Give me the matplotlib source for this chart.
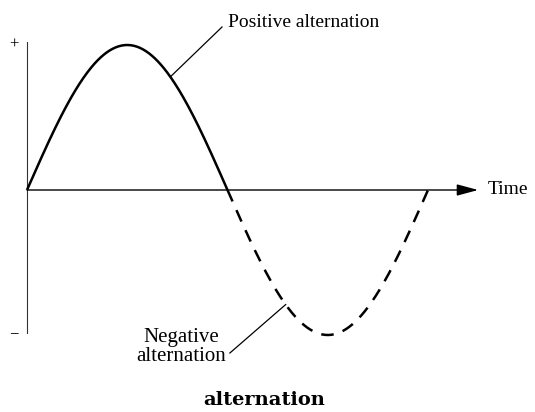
import matplotlib
matplotlib.use("Agg")
import matplotlib.pyplot as plt
import numpy as np

# one full cycle of the AC wave, split into its two halves
half_cycles = [(0.0, 1.0), (1.0, 2.0)]
half_labels = ["Positive alternation", "Negative\nalternation"]
half_styles = ["-", (0, (5, 3.8))]
amplitude = 1.0
axis_labels = ["+", "\u2212"]
x_label = "Time"
title = "alternation"


def wave(t):
    return amplitude * np.sin(np.pi * t)


fig = plt.figure(figsize=(5.35, 4.12), dpi=100)
ax = fig.add_axes([0, 0, 1, 1])
ax.set_xlim(-27 / 200.5, 508 / 200.5)
ax.set_ylim(-222 / 145, 190 / 145)
ax.axis("off")

serif = "Liberation Serif"

# axes
ax.plot([0, 0], [1.02, -0.986], color="#333333", lw=0.8)
ax.annotate("", xy=(2.25, 0), xytext=(0, 0),
            arrowprops=dict(arrowstyle="-|>,head_length=1.3,head_width=0.35",
                            color="black", lw=1.0, mutation_scale=10,
                            shrinkA=0, shrinkB=0))
ax.text(-0.065, 1.0, axis_labels[0], ha="center", va="center",
        fontsize=12, family=serif)
ax.text(-0.065, -0.993, axis_labels[1], ha="center", va="center",
        fontsize=12, family=serif)
ax.text(2.299, 0, x_label, ha="left", va="center", fontsize=14, family=serif)

# the two half cycles
for (t0, t1), ls in zip(half_cycles, half_styles):
    t = np.linspace(t0, t1, 200)
    ax.plot(t, wave(t), color="black", lw=1.8, linestyle=ls,
            solid_capstyle="butt", dash_capstyle="butt")

# labels with leader lines
px, nx = 0.715, 1.29
ax.plot([px, 0.9726], [wave(px), 1.124], color="black", lw=0.9)
ax.text(1.0025, 1.124, half_labels[0], ha="left", va="baseline",
        fontsize=14, family=serif)

ax.plot([1.012, nx], [-1.124, wave(nx)], color="black", lw=0.9)
ax.text(0.77, -1.083, half_labels[1], ha="center", va="center",
        fontsize=15, family=serif, linespacing=1.05)

fig.text(0.494, 0.03, title, ha="center", va="center", fontsize=14,
         family="DejaVu Serif", fontweight="bold")

fig.savefig("out.png", dpi=100)
